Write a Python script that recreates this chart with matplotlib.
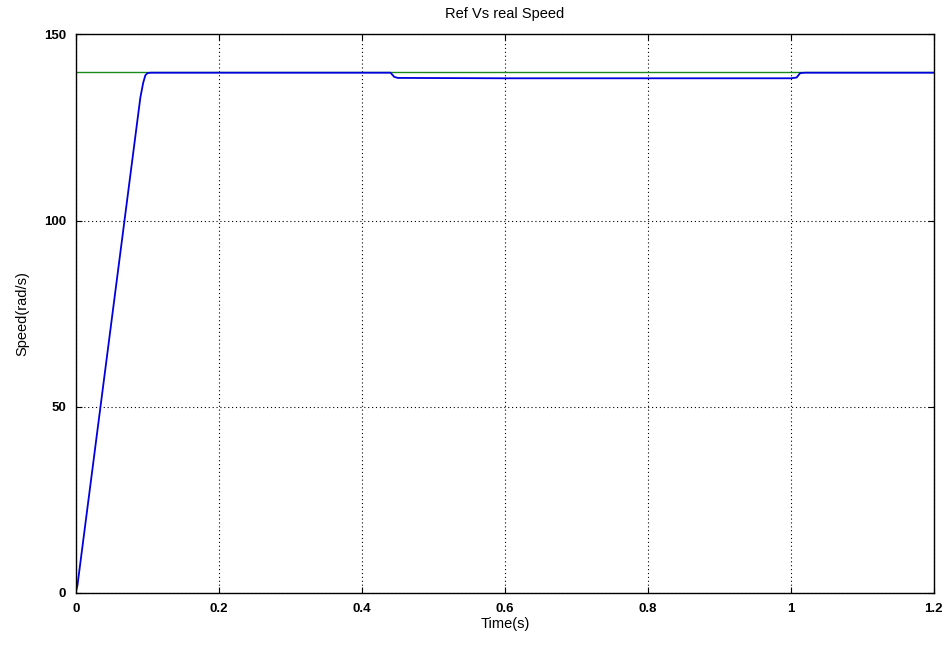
import matplotlib
matplotlib.use("Agg")
import matplotlib.pyplot as plt

# Reference speed
ref_t = [0.0, 1.2]
ref_w = [140.0, 140.0]

# Actual speed
real_t = [0.0, 0.002, 0.09, 0.094, 0.097, 0.1, 0.105, 0.44, 0.445, 0.45, 0.6, 0.8, 1.0, 1.008, 1.013, 1.02, 1.2]
real_w = [0.5, 2.0, 133.0, 137.0, 139.0, 139.6, 139.7, 139.7, 138.6, 138.3, 138.2, 138.2, 138.2, 138.4, 139.6, 139.7, 139.7]

xticks = [0, 0.2, 0.4, 0.6, 0.8, 1.0, 1.2]
xticklabels = ["0", "0.2", "0.4", "0.6", "0.8", "1", "1.2"]
yticks = [0, 50, 100, 150]

fig = plt.figure(figsize=(9.5, 6.48), dpi=100)
ax = fig.add_axes([0.08, 0.085, 0.903, 0.862])
ax.plot(ref_t, ref_w, color="#1a8a1a", lw=1.0)
ax.plot(real_t, real_w, color="#0000e0", lw=1.3)
ax.set_xlim(0, 1.2)
ax.set_ylim(0, 150)
ax.set_xticks(xticks)
ax.set_xticklabels(xticklabels)
ax.set_yticks(yticks)
ax.grid(True, color="black", linestyle=(0, (1, 2.5)), lw=0.8)
ax.tick_params(direction="in", top=True, right=True, length=4, labelsize=9.5, pad=7)
for lab in ax.get_xticklabels() + ax.get_yticklabels():
    lab.set_fontweight("bold")
    lab.set_family("Liberation Sans")
for s in ax.spines.values():
    s.set_linewidth(1.0)
ax.set_title("Ref Vs real Speed", fontsize=10.5, family="Liberation Sans", pad=12)
ax.set_xlabel("Time(s)", fontsize=10.5, family="Liberation Sans", labelpad=2)
ax.set_ylabel("Speed(rad/s)", fontsize=10.5, family="Liberation Sans", labelpad=11)
fig.savefig("out.png", dpi=100)
